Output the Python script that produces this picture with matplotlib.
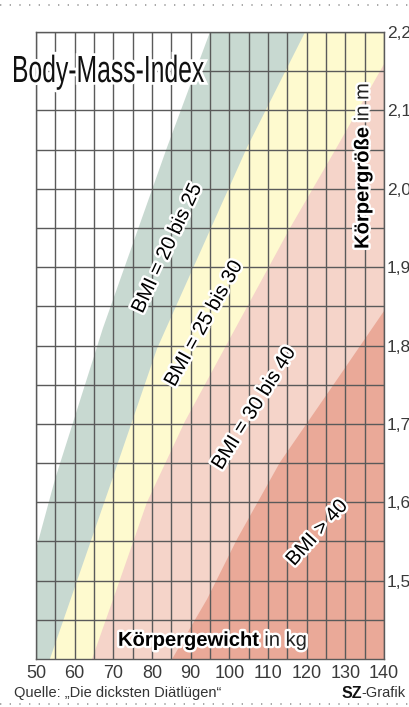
"""Body-Mass-Index chart: weight vs. height with BMI bands."""
import matplotlib

matplotlib.use("Agg")
import matplotlib.pyplot as plt
from matplotlib import patheffects as pe
from matplotlib import font_manager
from matplotlib.font_manager import FontProperties
from matplotlib.lines import Line2D
from matplotlib.patches import PathPatch, Polygon
from matplotlib.textpath import TextPath
from matplotlib.transforms import Affine2D

# axis ranges (kg, m)
KG_MIN, KG_MAX = 50, 140
M_MIN, M_MAX = 1.40, 2.20

# band boundaries (weight in kg, height in m)
bmi20_kg = [50.0, 54.9, 67.3, 83.9, 95.0]
bmi20_m = [1.540, 1.629, 1.822, 2.053, 2.20]
bmi25_kg = [53.6, 69.7, 81.3, 104.6, 119.6]
bmi25_m = [1.40, 1.629, 1.796, 2.053, 2.20]
bmi30_kg = [64.5, 71.7, 78.7, 88.5, 104.0, 115.7, 127.8, 140.0]
bmi30_m = [1.40, 1.501, 1.600, 1.703, 1.844, 1.950, 2.053, 2.159]
bmi40_kg = [85.2, 94.2, 102.0, 113.1, 126.8, 140.0]
bmi40_m = [1.40, 1.476, 1.553, 1.651, 1.749, 1.844]

band_colors = ["#c8d9d1", "#fefacf", "#f5d4c9", "#eaa998"]

# label text and anchor (kg, m, rotation)
band_labels = ["BMI = 20 bis 25", "BMI = 25 bis 30", "BMI = 30 bis 40", "BMI > 40"]
label_kg = [83.9, 93.4, 106.4, 122.7]
label_m = [1.924, 1.828, 1.720, 1.561]
label_rot = [65, 61, 58, 48]

x_ticks = list(range(50, 141, 10))
y_ticks = [1.5, 1.6, 1.7, 1.8, 1.9, 2.0, 2.1, 2.2]
y_ticklabels = ["1,50", "1,60", "1,70", "1,80", "1,90", "2,00", "2,10", "2,20"]


def pick_font(name, fallback="Liberation Sans"):
    names = {f.name for f in font_manager.fontManager.ttflist}
    return name if name in names else fallback


NARROW = pick_font("Liberation Sans Narrow")
halo = [pe.withStroke(linewidth=3.5, foreground="white")]

fig = plt.figure(figsize=(4.09, 7.07), dpi=100)
ax = fig.add_axes([36 / 409, 1 - 659 / 707, 348 / 409, 627 / 707])
ax.set_xlim(KG_MIN, KG_MAX)
ax.set_ylim(M_MIN, M_MAX)

bounds = [(bmi20_kg, bmi20_m), (bmi25_kg, bmi25_m), (bmi30_kg, bmi30_m), (bmi40_kg, bmi40_m)]
for (kg, m), color in zip(bounds, band_colors):
    verts = [(kg[0], M_MIN)] + list(zip(kg, m)) + [(KG_MAX, M_MAX), (KG_MAX, M_MIN)]
    ax.add_patch(Polygon(verts, closed=True, facecolor=color, edgecolor="none", zorder=1))

# grid every 5 kg / 5 cm
ax.set_xticks(x_ticks)
ax.set_xticks(range(55, 140, 10), minor=True)
ax.set_yticks(y_ticks)
ax.set_yticks([1.45, 1.55, 1.65, 1.75, 1.85, 1.95, 2.05, 2.15], minor=True)
ax.set_yticklabels(y_ticklabels)
ax.set_axisbelow(False)
ax.grid(which="both", color="#5a5a5a", linewidth=1.0)
ax.yaxis.tick_right()
ax.tick_params(which="both", length=0)
ax.tick_params(axis="x", pad=4, labelsize=13, labelcolor="#3a3a3a")
ax.tick_params(axis="y", pad=2, labelsize=12.5, labelcolor="#3a3a3a")
for lab in ax.get_xticklabels() + ax.get_yticklabels():
    lab.set_fontfamily(NARROW)
for sp in ax.spines.values():
    sp.set_color("#5a5a5a")
    sp.set_linewidth(1.0)

for text, kg, m, rot in zip(band_labels, label_kg, label_m, label_rot):
    ax.text(kg, m, text, rotation=rot, ha="center", va="center", rotation_mode="anchor",
            fontsize=14.5, family="Liberation Sans", color="black", path_effects=halo, zorder=4)

# axis titles: bold part plus regular unit
t1 = ax.text(0.2356, 0.021, "Körpergewicht", transform=ax.transAxes, ha="left", va="baseline",
             fontsize=14.5, fontweight="bold", family=NARROW, path_effects=halo, zorder=4)
ax.annotate(" in kg", xy=(1, 0.021), xycoords=(t1, "axes fraction"), ha="left", va="baseline",
            fontsize=14.5, family=NARROW, color="#222222", path_effects=halo, zorder=4)

t2 = ax.text(0.955, 0.654, "Körpergröße", transform=ax.transAxes, rotation=90,
             rotation_mode="anchor", ha="left", va="baseline", fontsize=14.5, fontweight="bold",
             family=NARROW, path_effects=halo, zorder=4)
ax.annotate(" in m", xy=(0.955, 1), xycoords=("axes fraction", t2), rotation=90,
            rotation_mode="anchor", ha="left", va="baseline", fontsize=14.5, family=NARROW,
            color="#222222", path_effects=halo, zorder=4)

# title, squeezed into its box
tp = TextPath((0, 0), "Body-Mass-Index", size=1, prop=FontProperties(family=NARROW))
ext = tp.get_extents()
cap = TextPath((0, 0), "B", size=1, prop=FontProperties(family=NARROW)).get_extents()
W, H = fig.get_size_inches() * fig.dpi
sx = (190 / W) / ext.width
sy = (26 / H) / cap.height
title_tr = Affine2D().translate(-ext.x0, 0).scale(sx, sy).translate(14 / W, 1 - 82 / H)
title = PathPatch(tp, transform=title_tr + fig.transFigure, facecolor="#111111",
                  edgecolor="none", zorder=5)
title.set_path_effects([pe.withStroke(linewidth=4, foreground="white")])
fig.add_artist(title)

# source line and dotted rules
fig.text(14 / W, 1 - 693 / H, "Quelle: \u201eDie dicksten Diätlügen\u201c", ha="left",
         va="center", fontsize=10.5, family=NARROW, color="#333333")
t3 = fig.text(406 / W, 1 - 693 / H, "-Grafik", ha="right", va="center", fontsize=10.5,
              family=NARROW, color="#333333")
sz = fig.text(0, 1 - 693 / H, "SZ", ha="right", va="center", fontsize=11.5, fontweight="bold",
              family=NARROW, color="#111111")
for ypx in (5, 704):
    fig.add_artist(Line2D([0, 1], [1 - ypx / H] * 2, transform=fig.transFigure, color="#999999",
                          linewidth=1.2, linestyle=(0, (0.8, 5))))

fig.canvas.draw()
bb = t3.get_window_extent()
sz.set_position((bb.x0 / W, 1 - 693 / H))

fig.savefig("out.png", dpi=100)
